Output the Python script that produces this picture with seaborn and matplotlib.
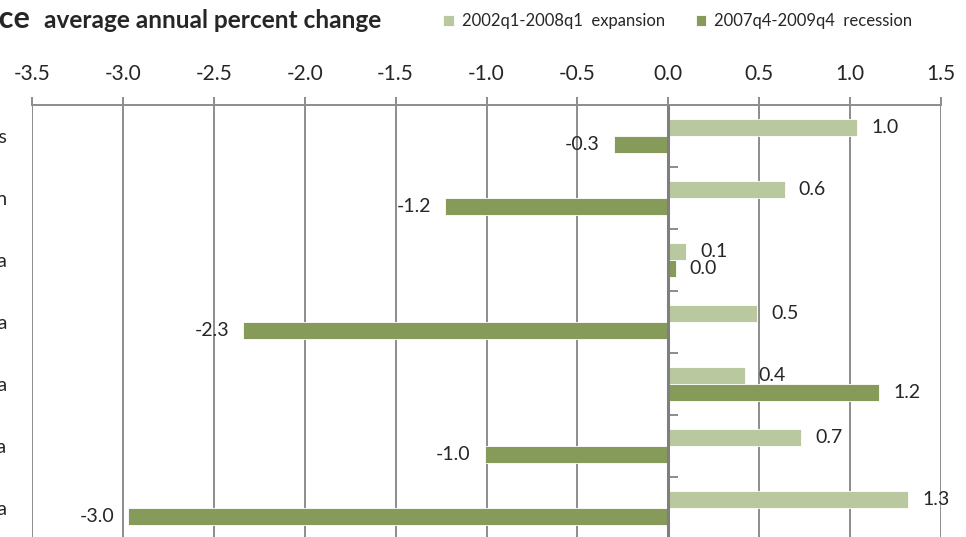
import matplotlib
matplotlib.use("Agg")
import matplotlib.pyplot as plt
import seaborn as sns
import pandas as pd
import numpy as np

regions = ["United States", "Washington region", "District of Columbia",
           "Northern Virginia", "Suburban Maryland area", "Alexandria", "Outer Virginia"]
expansion = [1.04, 0.64, 0.10, 0.49, 0.42, 0.73, 1.32]
recession = [-0.30, -1.23, 0.04, -2.34, 1.16, -1.01, -2.97]
series_names = ["2002q1-2008q1  expansion", "2007q4-2009q4  recession"]
x_ticks = [-3.5, -3.0, -2.5, -2.0, -1.5, -1.0, -0.5, 0.0, 0.5, 1.0, 1.5]

df = pd.DataFrame({
    "Region": regions * 2,
    "Change": expansion + recession,
    "Period": [series_names[0]] * len(regions) + [series_names[1]] * len(regions),
})

sns.set_theme(style="white")
plt.rcParams["font.family"] = ["Lato", "DejaVu Sans"]

fig = plt.figure(figsize=(9.66, 5.37), dpi=100)
ax = fig.add_axes([32 / 966, 1 - 539 / 537, (941 - 32) / 966, (539 - 105) / 537])

palette = ["#BBCF97", "#8AA54E"]
sns.barplot(data=df, y="Region", x="Change", hue="Period", palette=palette,
            width=0.56, orient="h", ax=ax, edgecolor="white", linewidth=0.6,
            legend=True)

ax.set_xlim(-3.5, 1.5)
ax.set_ylim(len(regions) - 0.5, -0.5)
ax.set_xticks(x_ticks)
ax.set_xticklabels([f"{t:.1f}" for t in x_ticks], fontsize=15)
ax.xaxis.tick_top()
ax.tick_params(axis="x", length=6, width=1.4, color="#8C8C8C", pad=9)
ax.tick_params(axis="y", length=0, pad=18, labelsize=14)
for lab in ax.get_yticklabels():
    lab.set_horizontalalignment("right")
ax.set_xlabel("")
ax.set_ylabel("")
ax.grid(axis="x", color="#8C8C8C", linewidth=1.4)
ax.set_axisbelow(True)
for side in ["left", "right", "bottom"]:
    ax.spines[side].set_visible(False)
ax.spines["top"].set_color("#8C8C8C")
ax.spines["top"].set_linewidth(1.4)
ax.axvline(0, color="#7F7F7F", linewidth=2.2, zorder=1.5)

# category tick marks on the zero line
zero_pos = (0 - x_ticks[0]) / (x_ticks[-1] - x_ticks[0])
sec = ax.secondary_yaxis(zero_pos)
sec.set_yticks(np.arange(-0.5, len(regions), 1.0))
sec.set_yticklabels([])
sec.tick_params(length=7, width=1.4, color="#8C8C8C")
sec.spines["left"].set_visible(False)

# value labels
for cont in ax.containers:
    for bar in cont:
        w = bar.get_width()
        yc = bar.get_y() + bar.get_height() / 2
        if w >= 0:
            ax.annotate(f"{w:.1f}", (w, yc), xytext=(10, 0), textcoords="offset points",
                        ha="left", va="center", fontsize=14)
        else:
            ax.annotate(f"{w:.1f}", (w, yc), xytext=(-10, 0), textcoords="offset points",
                        ha="right", va="center", fontsize=14)

handles, labels = ax.get_legend_handles_labels()
ax.legend_.remove()
fig.legend(handles, labels, ncol=2, loc="center left", bbox_to_anchor=(430 / 966, 1 - 21 / 537),
           frameon=False, fontsize=12, handlelength=0.65, handleheight=0.65,
           handletextpad=0.45, columnspacing=1.85, borderpad=0.3)

fig.text(30 / 966, 1 - 19 / 537, "Employment performance", ha="right", va="center",
         fontsize=22, fontweight="bold")
fig.text(44 / 966, 1 - 20 / 537, "average annual percent change", ha="left", va="center",
         fontsize=17.6, fontweight="bold")

fig.savefig("out.png", dpi=100)
